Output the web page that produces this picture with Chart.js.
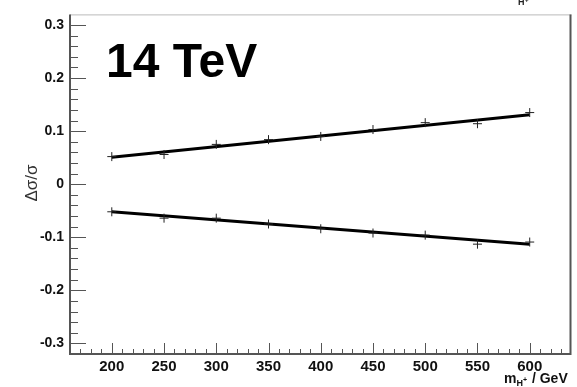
<!DOCTYPE html>
<html>
<head>
<meta charset="utf-8">
<script src="https://cdn.jsdelivr.net/npm/chart.js@4/dist/chart.umd.min.js"></script>
<style>
  html, body { margin: 0; padding: 0; background: #fff; }
  canvas { display: block; }
</style>
</head>
<body>
<canvas id="chart" width="577" height="387"></canvas>
<script>
// values
const masses = [200, 250, 300, 350, 400, 450, 500, 550, 600];
const upperVals = [0.052, 0.056, 0.075, 0.084, 0.090, 0.103, 0.116, 0.114, 0.135];
const lowerVals = [-0.052, -0.064, -0.064, -0.075, -0.084, -0.092, -0.096, -0.113, -0.109];

// straight-line fits, end points
const fitMass = [200, 600];
const fitUpper = [0.051, 0.131];
const fitLower = [-0.052, -0.113];

const xTicks = [200, 250, 300, 350, 400, 450, 500, 550, 600];
const yTicks = [-0.3, -0.2, -0.1, 0, 0.1, 0.2, 0.3];

const energyLabel = '14 TeV';

function pts(xs, ys) {
    return xs.map((x, i) => ({ x: x, y: ys[i] }));
}

const axisColor = '#555';
const labelFont = { family: 'Liberation Sans, Arial, sans-serif', size: 14, weight: 'bold' };

// ROOT style: ticks drawn inward, frame box, extra texts
const rootStyle = {
    id: 'rootStyle',
    afterDraw(chart) {
        const ctx = chart.ctx;
        const a = chart.chartArea;
        const xs = chart.scales.x;
        const ys = chart.scales.y;
        ctx.save();

        // top border, light
        ctx.strokeStyle = '#bbb';
        ctx.lineWidth = 1;
        ctx.beginPath();
        ctx.moveTo(a.left, a.top + 0.5);
        ctx.lineTo(a.right, a.top + 0.5);
        ctx.stroke();

        // axes and right border, darker
        ctx.strokeStyle = axisColor;
        ctx.lineWidth = 2;
        ctx.beginPath();
        ctx.moveTo(a.left, a.top);
        ctx.lineTo(a.left, a.bottom);
        ctx.lineTo(a.right - 1, a.bottom);
        ctx.lineTo(a.right - 1, a.top);
        ctx.stroke();

        ctx.lineWidth = 1;
        ctx.beginPath();
        // x minor every 10, major every 50
        for (let v = xs.min + 10; v < xs.max; v += 10) {
            const px = Math.round(xs.getPixelForValue(v)) + 0.5;
            const len = (Math.round(v) % 50 === 0) ? 11 : 5;
            ctx.moveTo(px, a.bottom);
            ctx.lineTo(px, a.bottom - len);
        }
        // y minor every 0.02, major every 0.1
        for (let k = -16; k <= 15; k++) {
            const v = k * 0.02;
            const py = Math.round(ys.getPixelForValue(v)) + 0.5;
            const len = (k % 5 === 0) ? 16 : 8;
            ctx.moveTo(a.left, py);
            ctx.lineTo(a.left + len, py);
        }
        ctx.stroke();

        // energy label
        ctx.fillStyle = '#000';
        ctx.font = 'bold 48px Liberation Sans, Arial, sans-serif';
        ctx.textBaseline = 'alphabetic';
        ctx.textAlign = 'left';
        ctx.fillText(energyLabel, 106, 77);

        // x title: m_{H+} / GeV
        ctx.fillStyle = '#111';
        ctx.font = 'bold 14px Liberation Sans, Arial, sans-serif';
        let x0 = 504;
        const base = 383;
        ctx.fillText('m', x0, base);
        x0 += ctx.measureText('m').width;
        ctx.font = 'bold 9px Liberation Sans, Arial, sans-serif';
        ctx.fillText('H', x0, base + 3);
        const hw = ctx.measureText('H').width;
        ctx.font = 'bold 7px Liberation Sans, Arial, sans-serif';
        ctx.fillText('+', x0 + hw, base - 1);
        x0 += hw + ctx.measureText('+').width + 1;
        ctx.font = 'bold 14px Liberation Sans, Arial, sans-serif';
        ctx.fillText(' / GeV', x0, base);

        // y title
        ctx.save();
        ctx.translate(37, 183);
        ctx.rotate(-Math.PI / 2);
        ctx.textAlign = 'center';
        ctx.font = '17px Liberation Sans, Arial, sans-serif';
        ctx.fillStyle = '#333';
        ctx.fillText('\u0394\u03c3/\u03c3', 0, 0);
        ctx.restore();

        // clipped piece of the upper title
        ctx.font = 'bold 9px Liberation Sans, Arial, sans-serif';
        ctx.fillStyle = '#222';
        ctx.fillText('H', 518, 5);
        ctx.font = 'bold 6px Liberation Sans, Arial, sans-serif';
        ctx.fillText('+', 525, 2);
        ctx.restore();
    }
};

new Chart(document.getElementById('chart'), {
    type: 'scatter',
    data: {
        datasets: [
            {
                data: pts(fitMass, fitUpper),
                showLine: true,
                borderColor: '#000',
                borderWidth: 3,
                pointRadius: 0,
                order: 2
            },
            {
                data: pts(fitMass, fitLower),
                showLine: true,
                borderColor: '#000',
                borderWidth: 3,
                pointRadius: 0,
                order: 2
            },
            {
                data: pts(masses, upperVals),
                pointStyle: 'cross',
                pointRadius: 4.5,
                borderColor: '#222',
                borderWidth: 1,
                order: 1
            },
            {
                data: pts(masses, lowerVals),
                pointStyle: 'cross',
                pointRadius: 4.5,
                borderColor: '#222',
                borderWidth: 1,
                order: 1
            }
        ]
    },
    options: {
        responsive: false,
        animation: false,
        layout: { padding: { top: 13, right: 1, left: 0, bottom: 0 } },
        plugins: {
            legend: { display: false },
            tooltip: { enabled: false }
        },
        scales: {
            x: {
                type: 'linear',
                min: 160,
                max: 640,
                afterBuildTicks: s => { s.ticks = xTicks.map(v => ({ value: v })); },
                afterFit: s => { s.height = 33; },
                grid: { display: false, drawTicks: false },
                border: { display: false },
                ticks: { color: '#111', font: Object.assign({}, labelFont, { size: 15 }), padding: 4, maxRotation: 0 }
            },
            y: {
                type: 'linear',
                min: -0.32,
                max: 0.32,
                afterBuildTicks: s => { s.ticks = yTicks.map(v => ({ value: v })); },
                afterFit: s => { s.width = 70; },
                grid: { display: false, drawTicks: false },
                border: { display: false },
                ticks: {
                    color: '#111',
                    font: labelFont,
                    padding: 6,
                    callback: v => (Math.abs(v) < 1e-9 ? '0' : String(Math.round(v * 10) / 10))
                }
            }
        }
    },
    plugins: [rootStyle]
});
</script>
</body>
</html>
